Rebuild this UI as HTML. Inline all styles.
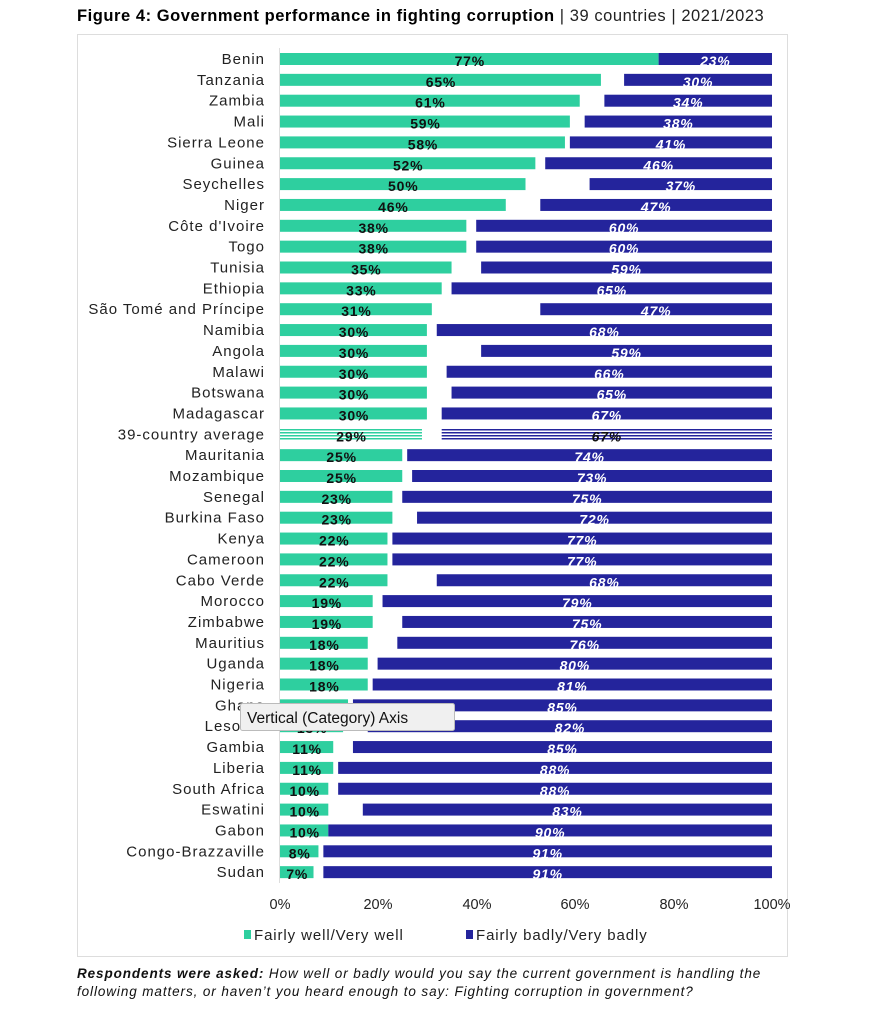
<!DOCTYPE html>
<html><head><meta charset="utf-8">
<style>
html,body{margin:0;padding:0;background:#fff;}
body{width:876px;height:1024px;position:relative;overflow:hidden;font-family:"Liberation Sans",sans-serif;}
</style></head>
<body>
<svg id="s" width="876" height="1024" xmlns="http://www.w3.org/2000/svg" font-family="Liberation Sans, sans-serif">
<defs>
<pattern id="pg" width="4" height="3" patternUnits="userSpaceOnUse"><rect width="4" height="1.5" fill="#2ecf9f"/></pattern>
<pattern id="pn" width="4" height="3" patternUnits="userSpaceOnUse"><rect width="4" height="1.5" fill="#24249c"/></pattern>
</defs>
<text x="77" y="21" font-size="16.5" letter-spacing="0.55" fill="#000"><tspan font-weight="bold">Figure 4: Government performance in fighting corruption</tspan><tspan fill="#222"> | 39 countries | 2021/2023</tspan></text>
<rect x="77.5" y="34.5" width="710" height="922" fill="none" stroke="#ddd" stroke-width="1"/>
<line x1="279.5" y1="48" x2="279.5" y2="883" stroke="#ddd"/>
<g id="rows"></g>
<g font-size="14.5" fill="#222" text-anchor="middle">
<text x="280" y="909">0%</text><text x="378" y="909">20%</text><text x="477" y="909">40%</text><text x="575" y="909">60%</text><text x="674" y="909">80%</text><text x="772" y="909">100%</text>
</g>
<rect x="244" y="930" width="7" height="9" fill="#2ecf9f"/>
<text x="254" y="940" font-size="15" letter-spacing="0.9" fill="#222">Fairly well/Very well</text>
<rect x="466" y="930" width="7" height="9" fill="#24249c"/>
<text x="476" y="940" font-size="15" letter-spacing="0.9" fill="#222">Fairly badly/Very badly</text>
<text x="77" y="978" font-size="13.5" letter-spacing="0.9" font-style="italic" fill="#111"><tspan font-weight="bold">Respondents were asked:</tspan> How well or badly would you say the current government is handling the</text>
<text x="77" y="996" font-size="13.5" letter-spacing="0.9" font-style="italic" fill="#111">following matters, or haven’t you heard enough to say: Fighting corruption in government?</text>
</svg>
<script>
var d=[["Benin",77,23],["Tanzania",65.3,30],["Zambia",61,34],["Mali",59,38],["Sierra Leone",58,41],["Guinea",52,46],["Seychelles",50,37],["Niger",46,47],["Côte d'Ivoire",38,60],["Togo",38,60],["Tunisia",35,59],["Ethiopia",33,65],["São Tomé and Príncipe",31,47],["Namibia",30,68],["Angola",30,59],["Malawi",30,66],["Botswana",30,65],["Madagascar",30,67],["39-country average",29,67],["Mauritania",25,74],["Mozambique",25,73],["Senegal",23,75],["Burkina Faso",23,72],["Kenya",22,77],["Cameroon",22,77],["Cabo Verde",22,68],["Morocco",19,79],["Zimbabwe",19,75],["Mauritius",18,76],["Uganda",18,80],["Nigeria",18,81],["Ghana",14,85],["Lesotho",13,82],["Gambia",11,85],["Liberia",11,88],["South Africa",10,88],["Eswatini",10,83],["Gabon",10,90],["Congo-Brazzaville",8,91],["Sudan",7,91]];
var h="",k=4.93;
d.forEach(function(r,i){
 var c=59+i*20.85, y=c-6, avg=i==18;
 var gw=r[1]*k, nw=r[2]*k, nx=772-nw;
 h+='<text x="265" y="'+(c+5)+'" font-size="15" letter-spacing="1" fill="#222" text-anchor="end">'+r[0]+'</text>';
 h+='<rect x="280" y="'+y+'" width="'+(gw-1)+'" height="12" fill="'+(avg?'url(#pg)':'#2ecf9f')+'"/>';
 h+='<rect x="'+nx+'" y="'+y+'" width="'+nw+'" height="12" fill="'+(avg?'url(#pn)':'#24249c')+'"/>';
 h+='<text x="'+(280+gw/2)+'" y="'+(c+7)+'" font-size="14" letter-spacing="0.8" font-weight="bold" fill="#111" text-anchor="middle">'+Math.round(r[1])+'%</text>';
 h+='<text x="'+(nx+nw/2)+'" y="'+(c+7)+'" font-size="14" letter-spacing="0.8" font-weight="bold" font-style="italic" fill="'+(avg?'#111':'#fff')+'" text-anchor="middle">'+r[2]+'%</text>';
});
h+='<rect x="240.5" y="703.5" width="214" height="27" rx="2" fill="#f0f0f0" stroke="#bbb"/>';
h+='<text x="247" y="723" font-size="15.5" fill="#111">Vertical (Category) Axis</text>';
document.getElementById("rows").innerHTML=h;
</script>
</body></html>
